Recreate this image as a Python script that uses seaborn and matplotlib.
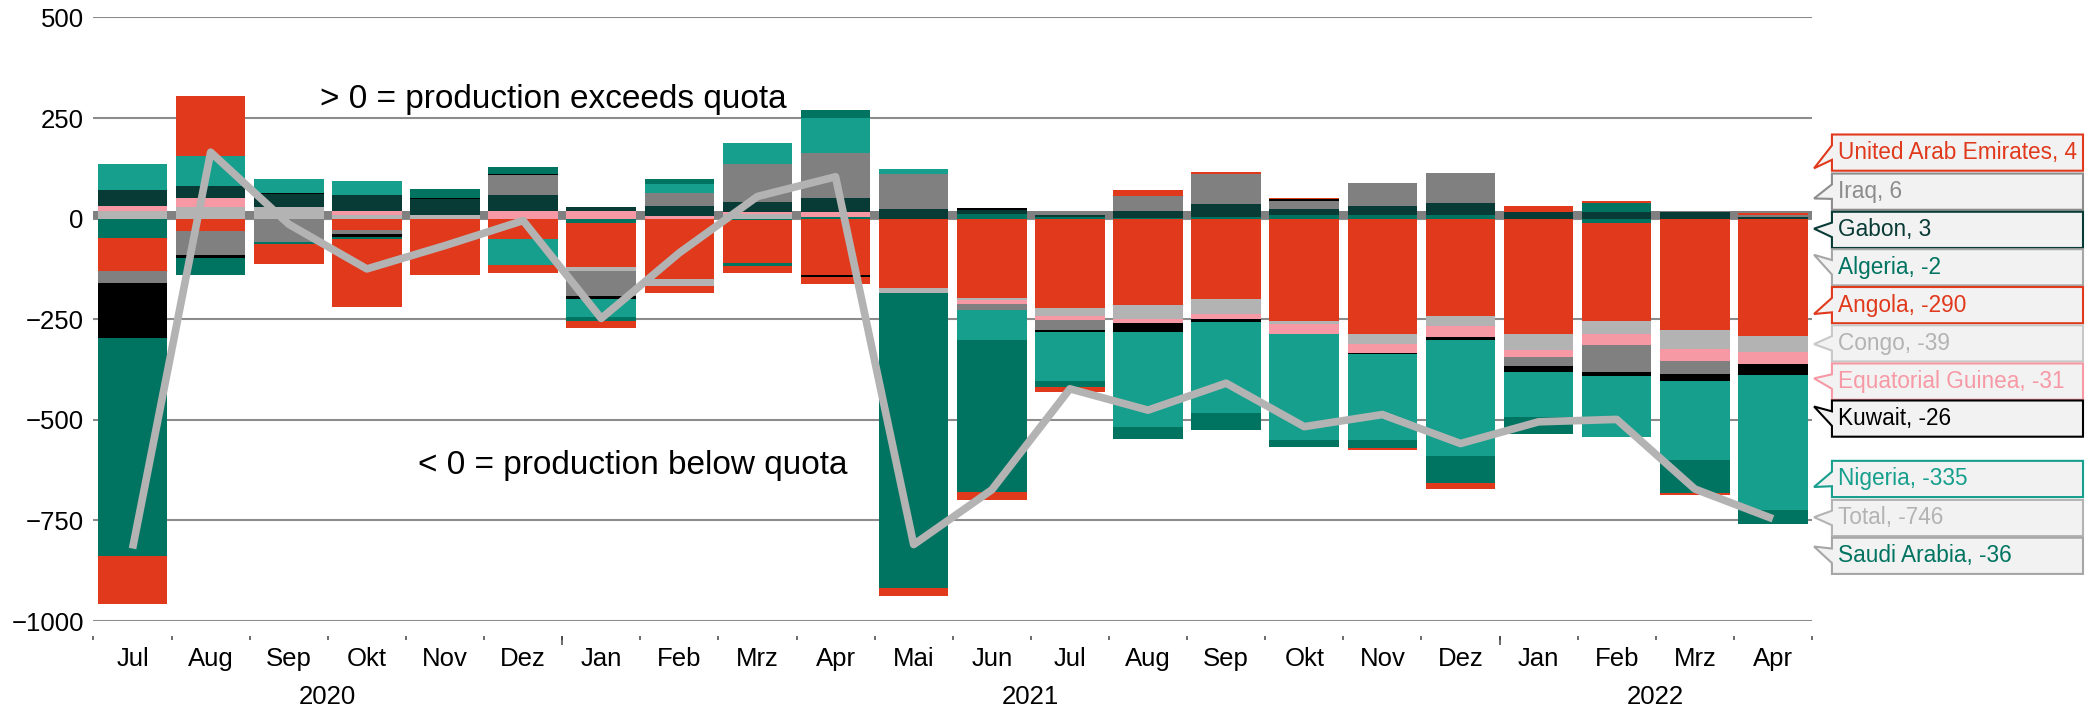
import numpy as np
import matplotlib
matplotlib.use('Agg')
import matplotlib.pyplot as plt
from matplotlib.patches import Polygon
import seaborn as sns

# --- data -------------------------------------------------------------
months = ['Jul', 'Aug', 'Sep', 'Okt', 'Nov', 'Dez',
          'Jan', 'Feb', 'Mrz', 'Apr', 'Mai', 'Jun', 'Jul', 'Aug', 'Sep', 'Okt', 'Nov', 'Dez',
          'Jan', 'Feb', 'Mrz', 'Apr']
years = ['2020', '2021', '2022']
year_first_month = [0, 6, 18]

algeria = [-49, 0, 0, 0, 0, 0, -11, 0, -4, 3, 0, 12, 3, 2, 4, 8, 8, 8, 0, -10, 0, -2]
angola = [-80, -31, 0, -29, -35, -50, -110, -150, -107, -139, -173, -197,
          -221, -215, -200, -254, -288, -242, -288, -244, -278, -290]
congo = [20, 29, 28, 8, 8, 0, -10, -17, 12, 0, -12, -6, -21, -35, -38, -8, -23, -25, -39, -33, -46, -39]
eq_guinea = [11, 21, 0, 11, 0, 19, 19, 6, 4, 13, 0, -10, -11, -10, -12, -25, -23, -27, -18, -28, -31, -31]
gabon = [40, 31, 34, 39, 41, 39, 10, 25, 26, 35, 23, 10, 6, 16, 33, 15, 23, 32, 17, 17, 17, 3]
iraq = [-30, -60, -59, -10, 0, 51, -61, 33, 93, 112, 87, -13, -25, 38, 74, 21, 57, 73, -21, -65, -30, 6]
kuwait = [-137, -7, 2, -7, 3, 3, -8, 0, 0, -7, 2, 4, -5, -22, -8, 4, -3, -8, -15, -12, -18, -26]
nigeria = [64, 74, 35, 36, 0, -65, -45, 23, 54, 86, 12, -75, -120, -237, -225, -262, -212, -288,
           -113, -151, -198, -335]
saudi_arabia = [-542, -43, -4, -4, 21, 17, -9, 12, -8, 20, -733, -378, -15, -28, -43, -19, -21, -66,
                -42, 23, -80, -36]
uae = [-120, 149, -50, -169, -105, -19, -19, -17, -17, -17, -19, -21, -14, 15, 6, 3, -5, -16, 14, 4, -5, 4]
total = [-820, 165, -14, -125, -67, -5, -248, -85, 55, 104, -810, -674, -423, -476, -409, -517, -487, -559,
         -505, -499, -672, -746]

RED = '#e0391c'
TEAL = '#179f8d'
DTEAL = '#007461'
GABON = '#093b36'
PINK = '#f799a5'
LGREY = '#b3b3b3'
MGREY = '#808080'

# stacking order (alphabetical, like the source chart)
series = [
    ('Algeria', algeria, DTEAL),
    ('Angola', angola, RED),
    ('Congo', congo, LGREY),
    ('Equatorial Guinea', eq_guinea, PINK),
    ('Gabon', gabon, GABON),
    ('Iraq', iraq, MGREY),
    ('Kuwait', kuwait, 'black'),
    ('Nigeria', nigeria, TEAL),
    ('Saudi Arabia', saudi_arabia, DTEAL),
    ('United Arab Emirates', uae, RED),
]
values = {name: vals for name, vals, _ in series}
values['Total'] = total

# callouts on the right: (name, text colour, edge colour, box centre, pointer tip)
callouts = [
    ('United Arab Emirates', RED, RED, 164, 125),
    ('Iraq', '#8c8c8c', '#8c8c8c', 67, 50),
    ('Gabon', GABON, GABON, -28, -25),
    ('Algeria', DTEAL, '#a6a6a6', -121, -90),
    ('Angola', RED, RED, -215, -237),
    ('Congo', LGREY, '#c8c8c8', -310, -312),
    ('Equatorial Guinea', PINK, PINK, -405, -397),
    ('Kuwait', 'black', 'black', -497, -467),
    ('Nigeria', TEAL, TEAL, -647, -667),
    ('Total', LGREY, LGREY, -744, -742),
    ('Saudi Arabia', DTEAL, '#a6a6a6', -838, -815),
]

# --- plot -------------------------------------------------------------
sns.set_theme(style='white')
plt.rcParams['font.family'] = ['Liberation Sans', 'DejaVu Sans']

fig = plt.figure(figsize=(20.93, 7.13), dpi=100)
ax = fig.add_axes([0.04467, 0.12903, 0.82107, 0.84656])

x = np.arange(len(months))
pos_base = np.zeros(len(x))
neg_base = np.zeros(len(x))
for name, vals, color in series:
    vals = np.array(vals, dtype=float)
    pos = np.where(vals > 0, vals, 0)
    neg = np.where(vals < 0, vals, 0)
    ax.bar(x, pos, bottom=pos_base, width=0.89, color=color, linewidth=0, zorder=2)
    ax.bar(x, neg, bottom=neg_base, width=0.89, color=color, linewidth=0, zorder=2)
    pos_base += pos
    neg_base += neg

ax.axhspan(0, 19, color=MGREY, linewidth=0, zorder=1)

sns.lineplot(x=x, y=total, ax=ax, color=LGREY, linewidth=5.5, zorder=4,
             solid_capstyle='butt')

ax.set_xlim(-0.5, len(months) - 0.5)
ax.set_ylim(-1000, 500)
ax.set_yticks(range(-1000, 501, 250))
ax.yaxis.grid(True, color='#8c8c8c', linewidth=1.5, zorder=0)
ax.set_axisbelow(True)
ax.set_xlabel('')
ax.set_ylabel('')
for s in ax.spines.values():
    s.set_visible(False)
ax.spines['bottom'].set_position(('outward', 10.8))

ax.set_xticks(np.arange(-0.5, len(months), 1))
ax.set_xticklabels([])
ax.set_xticks(x, months, minor=True)
ax.tick_params(axis='x', which='major', bottom=True, direction='out', length=3, width=1.1,
               color='#444444')
ax.tick_params(axis='x', which='minor', bottom=True, length=0, pad=8, labelsize=18.5,
               labelcolor='black')
ax.tick_params(axis='y', length=0, pad=7, labelsize=18.5, labelcolor='black')

sec = ax.secondary_xaxis(-0.0249)
sec.set_xticks([year_first_month[1] - 0.5, year_first_month[2] - 0.5])
sec.set_xticklabels([])
sec.tick_params(axis='x', bottom=True, direction='out', length=6.5, width=1.1, color='#444444')
for s in sec.spines.values():
    s.set_visible(False)

year_ends = year_first_month[1:] + [len(months)]
for label, start, end in zip(years, year_first_month, year_ends):
    ax.text((start + end - 1) / 2, -0.126, label, transform=ax.get_xaxis_transform(),
            ha='center', va='center', fontsize=18.5, color='black')

ax.text(2.4, 297, '> 0 = production exceeds quota', fontsize=24, va='center', ha='left',
        color='black', zorder=5)
ax.text(3.65, -614, '< 0 = production below quota', fontsize=24, va='center', ha='left',
        color='black', zorder=5)

# callout labels on the right
trans = ax.get_yaxis_transform()
bx0, bx1, tipx, half = 1.0116, 1.1577, 1.0012, 45
for name, tcol, ecol, cy, ty in callouts:
    verts = [(bx0, cy + half), (bx1, cy + half), (bx1, cy - half), (bx0, cy - half),
             (bx0, cy - 18), (tipx, ty), (bx0, cy + 18)]
    ax.add_patch(Polygon(verts, closed=True, transform=trans, facecolor='#f2f2f2',
                         edgecolor=ecol, linewidth=1.5, clip_on=False, zorder=6))
    val = values[name][-1]
    ax.text(1.0151, cy, f'{name}, {val}', transform=trans, ha='left', va='center',
            fontsize=16.3, color=tcol, zorder=7, clip_on=False)

fig.savefig('out.png', dpi=100)
